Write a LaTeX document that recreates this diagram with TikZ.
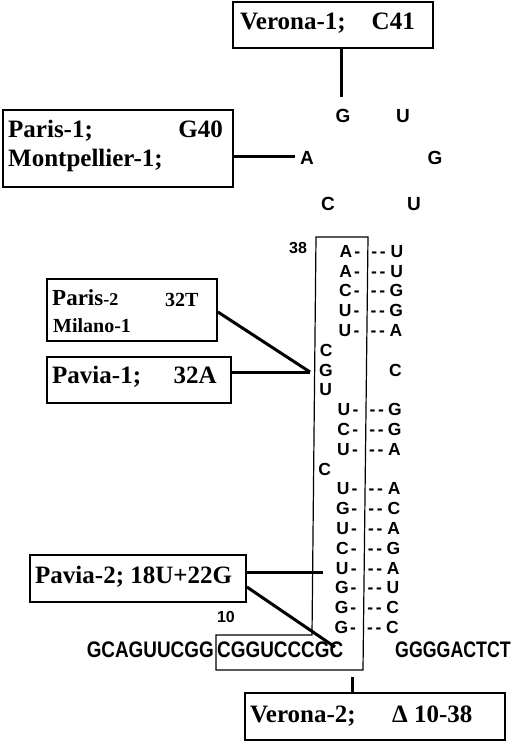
\documentclass[tikz,border=0pt]{standalone}
\usepackage{fontspec}
\setmainfont{Liberation Serif}
\newfontfamily\sansb{Liberation Sans Bold}
\newcommand{\fs}[1]{\fontsize{#1}{#1}\selectfont}
\newcommand{\seqtxt}[2][0.84]{\scalebox{#1}[1]{#2}}
\begin{document}
\begin{tikzpicture}[x=1pt,y=-1pt,
  boxst/.style={draw, line width=1.8pt, inner sep=0pt},
  btxt/.style={inner sep=0pt, font=\fs{25}\bfseries},
  conn/.style={line width=3pt},
  nt/.style={inner sep=0pt, anchor=base, font=\sansb\fs{17.5}},
  lp/.style={inner sep=0pt, anchor=base, font=\sansb\fs{19}},
  sq/.style={inner sep=0pt, font=\sansb\fs{22.5}},
  num/.style={inner sep=0pt, font=\sansb\fs{16}}]
\useasboundingbox (0,0) rectangle (520,742);
\fill[white] (0,0) rectangle (520,742);

% boxes
\node[boxst, minimum width=200pt, minimum height=46pt] (v1) at (333,25) {};
\node[btxt, anchor=base west] (v1a) at (240,29) {Verona-1;};
\node[btxt, anchor=base east] (v1b) at (415,29) {C41};

\node[boxst, minimum width=230pt, minimum height=77pt] (p1) at (118,148.5) {};
\node[btxt, anchor=base west] (p1a) at (8,137) {Paris-1;};
\node[btxt, anchor=base east] (p1b) at (223,137) {G40};
\node[btxt, anchor=base west] (p1c) at (8,166) {Montpellier-1;};

\node[boxst, minimum width=170pt, minimum height=62pt] (p2) at (132,310) {};
\node[inner sep=0pt, anchor=base west, font=\bfseries] (p2a) at (52,305) {{\fs{23}Paris}{\fs{18}-2}};
\node[inner sep=0pt, anchor=base west, font=\fs{20}\bfseries] (p2b) at (165,306) {32T};
\node[inner sep=0pt, anchor=base west, font=\fs{20}\bfseries] (p2c) at (53,332) {Milano-1};

\node[boxst, minimum width=184pt, minimum height=46pt] (pv1) at (139,380) {};
\node[btxt, anchor=base west] (pv1a) at (52,383) {Pavia-1;};
\node[btxt, anchor=base east] (pv1b) at (217,383) {32A};

\node[boxst, minimum width=216pt, minimum height=47pt] (pv2) at (138,578.5) {};
\node[btxt, anchor=base west] (pv2a) at (35,583) {Pavia-2; 18U+22G};

\node[boxst, minimum width=260pt, minimum height=47pt] (v2) at (375,716.5) {};
\node[btxt, anchor=base west] (v2a) at (250,722) {Verona-2;};
\node[btxt, anchor=base west] (v2b) at (392,722) {Δ 10-38};

% loop
\node[lp] (lg1) at (343,122) {G};
\node[lp] (lu1) at (403,122) {U};
\node[lp] (la) at (307,164) {A};
\node[lp] (lg2) at (435,164) {G};
\node[lp] (lc) at (328,210) {C};
\node[lp] (lu2) at (414,210) {U};

% stem outline
\draw[line width=1.2pt] (316,237) -- (368,237) -- (363,670) -- (216,670) -- (216,635) -- (312,635) -- cycle;

\node[num] (n38) at (298,248) {38};
\node[num] (n10) at (226,617) {10};

% paired rows
\foreach \i/\l/\r in {1/A/U,2/A/U,3/C/G,4/U/G,5/U/A,9/U/G,10/C/G,11/U/A,13/U/A,14/G/C,15/U/A,16/C/G,17/U/A,18/G/U,19/G/C,20/G/C}{
  \pgfmathsetmacro{\yy}{251+(\i-1)*19.8}
  \pgfmathsetmacro{\dx}{-0.0116*(\yy-237)}
  \pgfmathsetmacro{\yb}{\yy+6.2}
  \node[nt] (L\i) at (346+\dx,\yb) {\l};
  \node[nt] (D\i) at (357.5+\dx,\yb) {-};
  \node[nt] (E\i) at (374.5+\dx,\yb) {-};
  \node[nt] (F\i) at (383+\dx,\yb) {-};
  \node[nt] (R\i) at (397+\dx,\yb) {\r};
}
% bulges
\foreach \i/\l in {6/C,7/G,8/U,12/C}{
  \pgfmathsetmacro{\yy}{251+(\i-1)*19.8}
  \pgfmathsetmacro{\dx}{-0.0116*(\yy-237)}
  \pgfmathsetmacro{\yb}{\yy+6.2}
  \node[nt] (B\i) at (327.5+\dx,\yb) {\l};
}
\node[nt] (R7) at (395.5,376) {C};

% bottom sequence
\node[sq, anchor=base east] (s1) at (214,657) {\seqtxt{GCAGUUCGG}};
\node[sq, anchor=base west] (s2) at (217,657) {\seqtxt{CGGUCCCGC}};
\node[sq, anchor=base west] (s3) at (395,657) {\seqtxt[0.79]{GGGGACTCT}};

% connectors
\coordinate (c1) at (341,97);
\draw[conn] (v1.south -| c1) -- (c1);
\coordinate (c2) at (295,156);
\draw[conn] (p1.east |- c2) -- (c2);
\coordinate (m1) at (310,372);
\draw[conn] ([yshift=-2pt]p2.east) -- (m1);
\draw[conn] (pv1.east |- m1) -- (m1);
\coordinate (c3) at (323,572);
\draw[conn] (pv2.east |- c3) -- (c3);
\coordinate (c4) at (335,647);
\draw[conn] ([yshift=-8.5pt]pv2.east) -- (c4);
\coordinate (c5) at (352,677);
\draw[conn] (c5) -- (c5 |- v2.north);
\end{tikzpicture}
\end{document}
